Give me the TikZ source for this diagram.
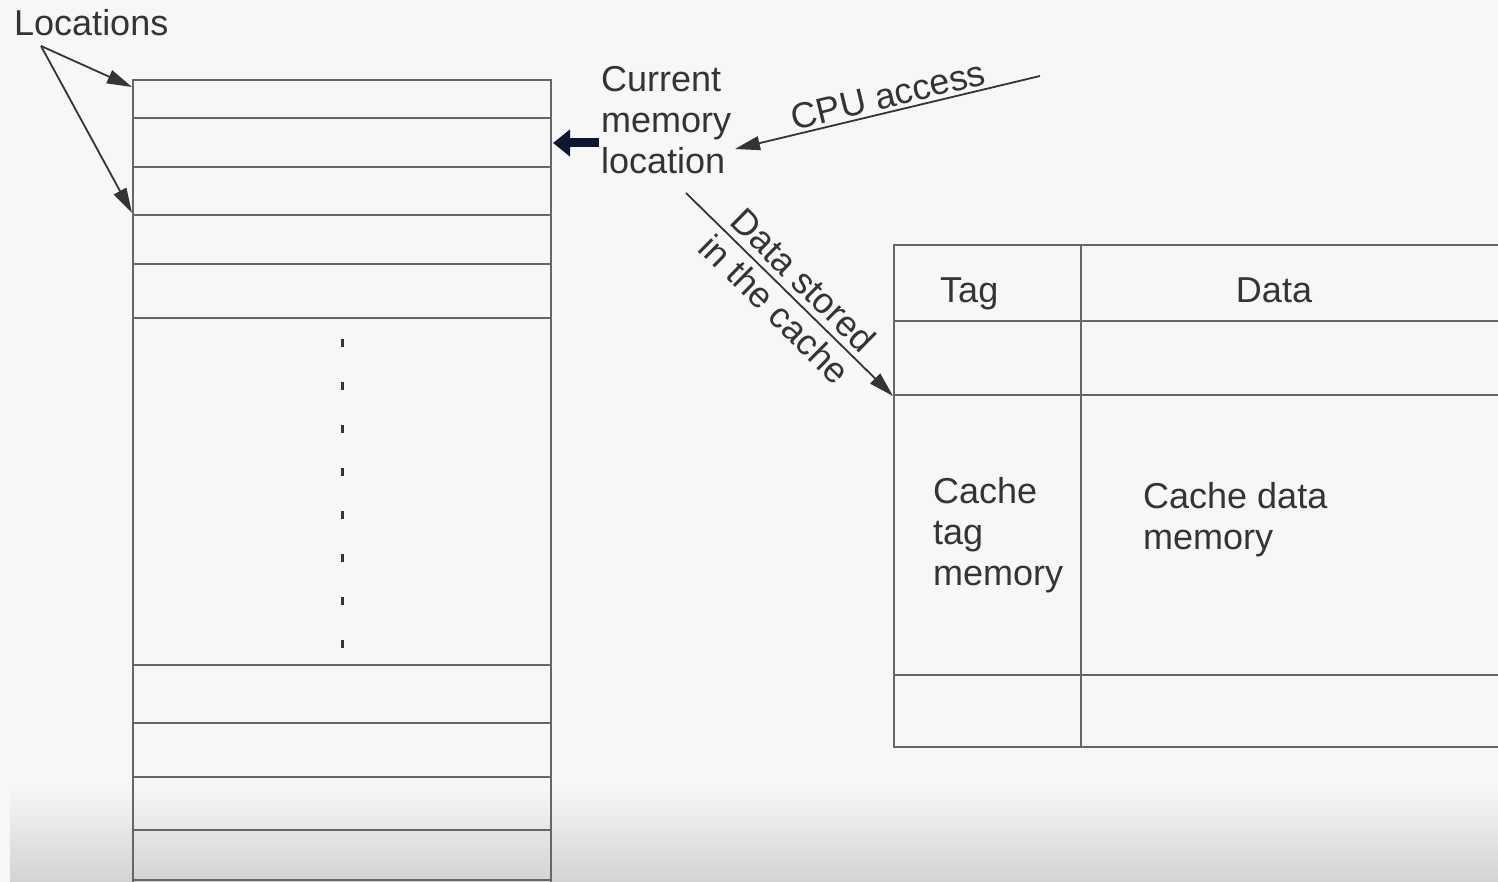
\documentclass[tikz,border=0pt]{standalone}
\usepackage{fontspec}
\setmainfont{Liberation Sans}
\usetikzlibrary{arrows.meta}
\definecolor{paper}{HTML}{F7F7F7}
\definecolor{paperdark}{HTML}{D3D3D3}
\definecolor{rule}{HTML}{666666}
\definecolor{ink}{HTML}{343434}
\definecolor{navy}{HTML}{0C1830}
\begin{document}
\begin{tikzpicture}[x=1pt,y=-1pt,
  every node/.style={inner sep=0pt, text=ink, font=\fontsize{36}{41}\selectfont},
  gridline/.style={draw=rule, line width=2.4pt, line cap=rect},
  pointer/.style={draw=ink, line width=1.8pt, -{Triangle[length=25pt,width=14pt]}},
  bigpointer/.style={draw=navy, line width=9pt, -{Triangle[length=17pt,width=26pt]}},
]
\useasboundingbox (0,0) rectangle (1498,882);
\fill[paper] (0,0) rectangle (1498,882);
\shade[top color=paper, bottom color=paperdark] (10,785) rectangle (1498,882);

% main memory: a column of locations
\foreach \y in {80,118,167,215,264,318,665,723,777,830,880}
  \draw[gridline] (133,\y) -- (551,\y);
\draw[gridline] (133,80) -- (133,882);
\draw[gridline] (551,80) -- (551,882);
% elided rows
\draw[ink, line width=3pt, dash pattern=on 8pt off 35pt] (342,339) -- (342,648);

% cache: tag and data columns
\foreach \y in {245,321,395,675,747}
  \draw[gridline] (894,\y) -- (1498,\y);
\draw[gridline] (894,245) -- (894,747);
\draw[gridline] (1081,245) -- (1081,747);

% labels
\node[anchor=base west] (loc) at (14,36) {Locations};
\node[anchor=north west, align=left] (cur) at (601,66) {Current\\memory\\location};
\node[rotate=13.6] (cpulbl) at (888,95) {CPU access};
\node[rotate=-44.6, align=center] (storelbl) at (789.5,294.5) {Data stored\\in the cache};
\node[anchor=base west] (tag) at (940,303) {Tag};
\node[anchor=base] (data) at (1274,303) {Data};
\node[anchor=north west, align=left] (tagmem) at (933,477) {Cache\\tag\\memory};
\node[anchor=north west, align=left] (datamem) at (1143,482) {Cache data\\memory};

% connector end points
\coordinate (locfoot) at (41,46);
\coordinate (row1) at (132,87);
\coordinate (row4) at (132,213);
\coordinate (curtail) at (599,143);
\coordinate (row2) at (553,143);
\coordinate (cpu) at (1040,76);
\coordinate (curin) at (735,149);
\coordinate (curout) at (686,193);
\coordinate (cacherow) at (893,396);

% connectors
\draw[pointer] (locfoot) -- (row1);
\draw[pointer] (locfoot) -- (row4);
\draw[bigpointer] (curtail) -- (row2);
\draw[pointer] (cpu) -- (curin);
\draw[pointer] (curout) -- (cacherow);
\end{tikzpicture}
\end{document}
